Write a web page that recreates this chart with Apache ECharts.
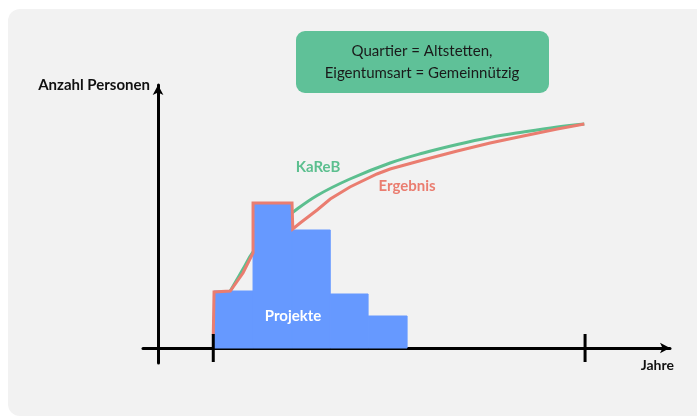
<!DOCTYPE html>
<html>
<head>
<meta charset="utf-8">
<script src="https://cdn.jsdelivr.net/npm/echarts@6/dist/echarts.min.js"></script>
<style>
  html, body { margin: 0; padding: 0; background: #fff; }
  #chart { width: 697px; height: 417px; }
</style>
</head>
<body>
<div id="chart"></div>
<script>
// Schema: Projekte (Balken), KaReB-Kurve und Ergebnis-Kurve
// x = Jahre (y-Achse bei 0), y = Anzahl Personen
const barEdges = [1.45, 2.46, 3.47, 4.46, 5.44, 6.45];
const projekte = [57, 145, 118, 54, 32];

const kareb = [
  [1.87, 57], [2.2, 79], [2.46, 96], [2.98, 120], [3.5, 136], [4.12, 152.5],
  [4.97, 169], [6.01, 185], [6.87, 195], [7.75, 203.5], [8.6, 210.5],
  [9.46, 216], [10.34, 221], [11.04, 224]
];

const ergebnis = [
  [1.43, 13], [1.45, 56], [1.87, 57], [2.2, 75], [2.46, 95], [2.46, 145],
  [3.47, 145], [3.49, 119], [3.68, 125], [4.12, 138], [4.46, 149],
  [4.97, 161], [5.67, 174], [6.01, 179], [6.86, 188], [7.75, 197],
  [8.6, 205], [9.46, 212], [10.34, 219], [11.04, 224]
];

// Start- und Endjahr auf der Zeitachse
const tickYears = [1.43, 11.06];

const FONT = 'Lato, "Noto Sans", sans-serif';

const chart = echarts.init(document.getElementById('chart'), null, { renderer: 'canvas' });

const axisLineStyle = { color: '#000', width: 3 };

chart.setOption({
  animation: false,
  backgroundColor: '#fff',
  grid: { left: 143, right: 27, top: 85, bottom: 54 },
  xAxis: {
    type: 'value',
    min: -0.39,
    max: 13.26,
    axisLine: { onZero: true, symbol: ['none', 'arrow'], symbolSize: [8, 10], lineStyle: axisLineStyle },
    axisTick: { show: false },
    axisLabel: { show: false },
    splitLine: { show: false }
  },
  yAxis: {
    type: 'value',
    min: -15,
    max: 263,
    axisLine: { onZero: true, symbol: ['none', 'arrow'], symbolSize: [8, 10], lineStyle: axisLineStyle },
    axisTick: { show: false },
    axisLabel: { show: false },
    splitLine: { show: false }
  },
  series: [
    {
      name: 'KaReB',
      type: 'line',
      z: 1,
      data: kareb,
      smooth: 0.4,
      showSymbol: false,
      lineStyle: { color: '#5cbf8f', width: 3 }
    },
    {
      name: 'Projekte',
      type: 'custom',
      z: 2,
      data: projekte.map((h, i) => [barEdges[i], barEdges[i + 1], h]),
      encode: { x: [0, 1], y: 2 },
      renderItem: function (params, api) {
        const p0 = api.coord([api.value(0), api.value(2)]);
        const p1 = api.coord([api.value(1), 0]);
        return {
          type: 'rect',
          shape: { x: p0[0], y: p0[1], width: p1[0] - p0[0], height: p1[1] - p0[1] },
          style: { fill: '#6699ff', stroke: '#6699ff', lineWidth: 1 }
        };
      }
    },
    {
      name: 'Ergebnis',
      type: 'line',
      z: 3,
      data: ergebnis,
      showSymbol: false,
      lineStyle: { color: '#ea7d70', width: 3, join: 'miter' }
    },
    {
      name: 'ticks',
      type: 'custom',
      z: 4,
      data: tickYears.map(x => [x, 0]),
      renderItem: function (params, api) {
        const p = api.coord([api.value(0), 0]);
        return {
          type: 'line',
          shape: { x1: p[0], y1: p[1] - 14, x2: p[0], y2: p[1] + 14 },
          style: { stroke: '#000', lineWidth: 3 }
        };
      }
    }
  ],
  graphic: [
    {
      type: 'rect',
      z: -10,
      shape: { x: 8, y: 9, width: 710, height: 407, r: 12 },
      style: { fill: '#f2f2f2' }
    },
    {
      type: 'rect',
      z: 10,
      shape: { x: 296, y: 31, width: 253, height: 62, r: 9 },
      style: { fill: '#5fc198' }
    },
    {
      type: 'text',
      z: 11,
      x: 422, y: 62,
      style: {
        text: 'Quartier = Altstetten,\nEigentumsart = Gemeinnützig',
        fill: '#1a1a1a', font: '15px ' + FONT, lineHeight: 22,
        align: 'center', verticalAlign: 'middle'
      }
    },
    {
      type: 'text',
      z: 11,
      x: 150, y: 85,
      style: {
        text: 'Anzahl Personen', fill: '#111', font: 'bold 15px ' + FONT,
        align: 'right', verticalAlign: 'middle'
      }
    },
    {
      type: 'text',
      z: 11,
      x: 674, y: 365,
      style: {
        text: 'Jahre', fill: '#111', font: 'bold 14px ' + FONT,
        align: 'right', verticalAlign: 'middle'
      }
    },
    {
      type: 'text',
      z: 11,
      x: 318, y: 167,
      style: {
        text: 'KaReB', fill: '#5cbf8f', font: 'bold 15px ' + FONT,
        align: 'center', verticalAlign: 'middle'
      }
    },
    {
      type: 'text',
      z: 11,
      x: 407, y: 186,
      style: {
        text: 'Ergebnis', fill: '#ea7d70', font: 'bold 15px ' + FONT,
        align: 'center', verticalAlign: 'middle'
      }
    },
    {
      type: 'text',
      z: 11,
      x: 293, y: 316,
      style: {
        text: 'Projekte', fill: '#fff', font: 'bold 15px ' + FONT,
        align: 'center', verticalAlign: 'middle'
      }
    }
  ]
});
</script>
</body>
</html>
